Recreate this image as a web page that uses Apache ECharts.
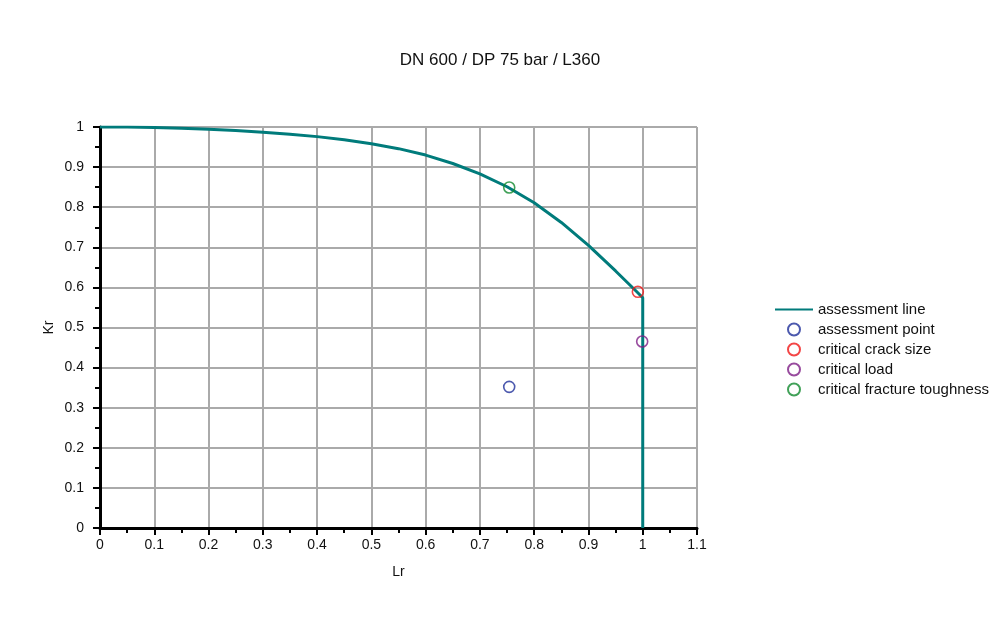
<!DOCTYPE html>
<html>
<head>
<meta charset="utf-8">
<script src="https://cdn.jsdelivr.net/npm/echarts@6/dist/echarts.min.js"></script>
<style>
  html, body { margin: 0; padding: 0; background: #fff; }
  #chart { width: 1000px; height: 618px; }
</style>
</head>
<body>
<div id="chart"></div>
<script>
var chartDom = document.getElementById('chart');
var chart = echarts.init(chartDom);

// assessment line (Lr, Kr)
var lineLr = [0, 0.05, 0.1, 0.15, 0.2, 0.25, 0.3, 0.35, 0.4, 0.45, 0.5, 0.55, 0.6, 0.65, 0.7, 0.75, 0.8, 0.85, 0.9, 0.95, 0.99, 1.0, 1.0];
var lineKr = [1, 0.9997, 0.9986, 0.9969, 0.9944, 0.9911, 0.987, 0.982, 0.976, 0.968, 0.958, 0.946, 0.93, 0.909, 0.883, 0.851, 0.811, 0.762, 0.705, 0.641, 0.588, 0.574, 0];

var assessmentPoint = [0.754, 0.352];
var criticalCrack = [0.991, 0.589];
var criticalLoad = [0.999, 0.465];
var criticalToughness = [0.754, 0.849];

var lineData = lineLr.map((lr, i) => [lr, lineKr[i]]);

var font = 'Liberation Sans, Arial, sans-serif';

function pointSeries(name, color, pt) {
  return {
    name: name,
    type: 'scatter',
    data: [pt],
    symbol: 'circle',
    symbolSize: 11,
    itemStyle: { color: 'rgba(255,255,255,0)', borderColor: color, borderWidth: 1.6 },
    z: 5
  };
}

var option = {
  animation: false,
  title: {
    text: 'DN 600 / DP 75 bar / L360',
    left: 'center',
    top: 47,
    textStyle: { fontFamily: font, fontSize: 17, fontWeight: 'normal', color: '#111' }
  },
  legend: {
    orient: 'vertical',
    left: 769,
    top: 297,
    itemWidth: 38,
    itemHeight: 12,
    itemGap: 5,
    textStyle: { fontFamily: font, fontSize: 15, color: '#111' },
    data: [
      { name: 'assessment line', itemStyle: { opacity: 0 } },
      'assessment point', 'critical crack size', 'critical load', 'critical fracture toughness'
    ]
  },
  grid: {
    left: 100,
    right: 303,
    top: 127,
    bottom: 90
  },
  xAxis: [{
    type: 'value',
    min: 0,
    max: 1.1,
    interval: 0.1,
    name: 'Lr',
    nameLocation: 'middle',
    nameGap: 37,
    nameTextStyle: { fontFamily: font, fontSize: 14, color: '#111' },
    axisLine: { onZero: false, lineStyle: { color: '#000', width: 3 } },
    axisTick: { length: 7, lineStyle: { color: '#000', width: 2 } },
    minorTick: { show: true, splitNumber: 2, length: 5, lineStyle: { color: '#000', width: 2 } },
    axisLabel: { margin: 10, fontFamily: font, fontSize: 14, color: '#111',
      formatter: v => String(Math.round(v * 10) / 10) },
    splitLine: { show: true, lineStyle: { color: '#aaa', width: 2 } }
  }, {
    type: 'value',
    position: 'top',
    min: 0,
    max: 1.1,
    axisLine: { show: true, lineStyle: { color: '#000', width: 1.5 } },
    axisTick: { show: false },
    axisLabel: { show: false },
    splitLine: { show: false }
  }],
  yAxis: [{
    type: 'value',
    min: 0,
    max: 1,
    interval: 0.1,
    name: 'Kr',
    nameLocation: 'middle',
    nameGap: 44,
    nameMoveOverlap: false,
    nameTextStyle: { fontFamily: font, fontSize: 14, color: '#111' },
    axisLine: { onZero: false, lineStyle: { color: '#000', width: 3 } },
    axisTick: { length: 7, lineStyle: { color: '#000', width: 2 } },
    minorTick: { show: true, splitNumber: 2, length: 5, lineStyle: { color: '#000', width: 2 } },
    axisLabel: { margin: 16, fontFamily: font, fontSize: 14, color: '#111',
      formatter: v => String(Math.round(v * 10) / 10) },
    splitLine: { show: true, lineStyle: { color: '#aaa', width: 2 } }
  }, {
    type: 'value',
    position: 'right',
    min: 0,
    max: 1,
    axisLine: { show: true, lineStyle: { color: '#000', width: 1.5 } },
    axisTick: { show: false },
    axisLabel: { show: false },
    splitLine: { show: false }
  }],
  series: [
    {
      name: 'assessment line',
      type: 'line',
      data: lineData,
      symbol: 'none',
      color: '#007b7b',
      lineStyle: { color: '#007b7b', width: 3 },
      z: 4
    },
    pointSeries('assessment point', '#1f2f9a', assessmentPoint),
    pointSeries('critical crack size', '#f01818', criticalCrack),
    pointSeries('critical load', '#7e1e86', criticalLoad),
    pointSeries('critical fracture toughness', '#118a2e', criticalToughness)
  ]
};

chart.setOption(option);
</script>
</body>
</html>
